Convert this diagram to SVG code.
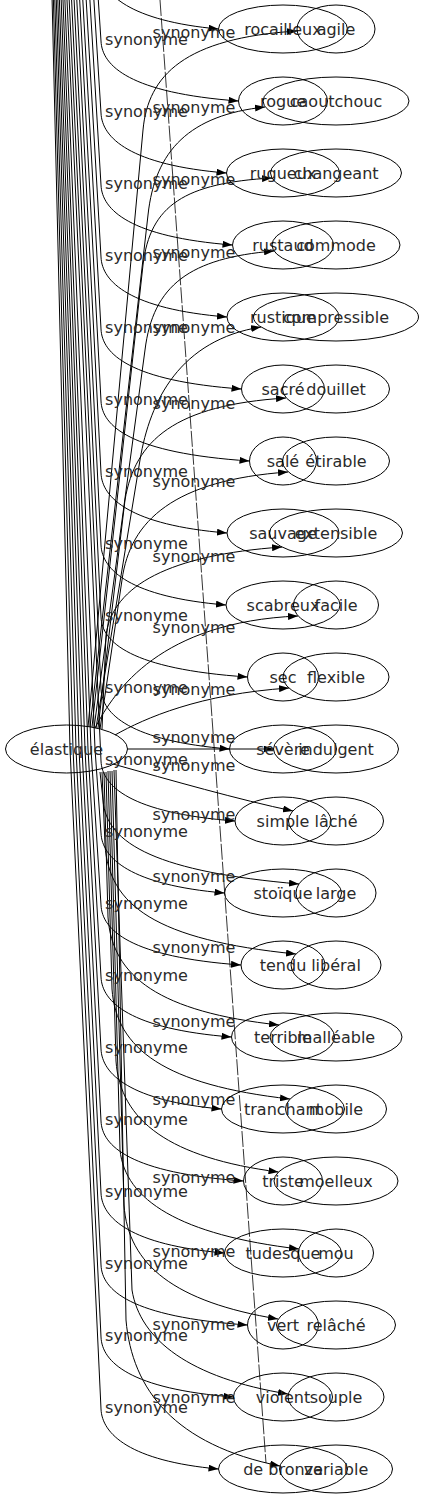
<svg xmlns="http://www.w3.org/2000/svg" width="423" height="1499" viewBox="0 0 423 1499">
<style>
.e{fill:none;stroke:#000;stroke-width:1;marker-end:url(#ah)}
.d{fill:none;stroke:#000;stroke-width:0.8;stroke-dasharray:16,2}
ellipse{fill:none;stroke:#000;stroke-width:1}
text{font-family:"DejaVu Sans","Liberation Sans",sans-serif;font-size:16px;fill:#2a2a2a;text-anchor:middle}
</style>
<defs>
<marker id="ah" markerUnits="userSpaceOnUse" markerWidth="10" markerHeight="7" refX="10" refY="3.5" orient="auto"><path d="M0,0 L10,3.5 L0,7 z" fill="#000"/></marker>
</defs>
<rect width="423" height="1499" fill="#fff"/>
<g id="edges">
<path class="d" d="M160,0 L266,1463"/>
<path class="e" d="M100,-120 L100,-31 C101,-6 130,21 218.5,29"/>
<path class="e" d="M98.3,0 L101,41 C102,66 130,93 238.5,101"/>
<path class="e" d="M93.9,0 L101,113 C102,138 130,165 226.5,173"/>
<path class="e" d="M89.9,0 L101,185 C102,210 130,237 232.5,245"/>
<path class="e" d="M86.2,0 L101,257 C102,282 130,309 227,317"/>
<path class="e" d="M82.8,0 L101,329 C102,354 130,381 241.5,389"/>
<path class="e" d="M79.7,0 L101,401 C102,426 130,453 249.5,461"/>
<path class="e" d="M76.8,0 L101,473 C102,498 130,525 227,533"/>
<path class="e" d="M74.1,0 L101,545 C102,570 130,597 226,605"/>
<path class="e" d="M71.6,0 L101,617 C102,642 130,669 247.5,677"/>
<path class="e" d="M69.2,0 L101,689 C102,714 130,741 229.5,749"/>
<path class="e" d="M67,0 L101,761 C102,786 130,813 235,821"/>
<path class="e" d="M64.9,0 L95,749 L101,833 C102,858 130,885 224.5,893"/>
<path class="e" d="M63,0 L91,749 L101,905 C102,930 130,957 241,965"/>
<path class="e" d="M61.2,0 L88,749 L101,977 C102,1002 130,1029 231.5,1037"/>
<path class="e" d="M59.4,0 L85,749 L101,1049 C102,1074 130,1101 221.5,1109"/>
<path class="e" d="M57.8,0 L82,749 L101,1121 C102,1146 130,1173 243.5,1181"/>
<path class="e" d="M56.3,0 L79,749 L101,1193 C102,1218 130,1245 224.5,1253"/>
<path class="e" d="M54.8,0 L76,749 L101,1265 C102,1290 130,1317 247.5,1325"/>
<path class="e" d="M53.4,0 L73,749 L101,1337 C102,1362 130,1389 233.5,1397"/>
<path class="e" d="M52.1,0 L70,749 L101,1409 C102,1434 130,1461 218.5,1469"/>
<path class="e" d="M88,727 L143,130 C148,75 185,38 297,31"/>
<path class="e" d="M90,727 L148,215 C155,150 190,115 265,107"/>
<path class="e" d="M92,727 L143,265 C150,205 185,183 272,178"/>
<path class="e" d="M94,728 L145,350 C153,285 190,258 274,251"/>
<path class="e" d="M96,728 L140,460 C150,400 180,340 261,327"/>
<path class="e" d="M98,728 L125,500 C135,440 175,405 286,398"/>
<path class="e" d="M100,729 L122,580 C130,520 175,480 288,472"/>
<path class="e" d="M102,729 L106,635 C113,585 170,555 282,547"/>
<path class="e" d="M95,728 C115,690 160,622 298,616"/>
<path class="e" d="M115,735 C145,718 200,694 289,688"/>
<path class="e" d="M127.5,749 L273.5,749"/>
<path class="e" d="M113,764 C170,780 240,800 293,811"/>
<path class="e" d="M100,772 L103,800 C106,845 160,872 299,884"/>
<path class="e" d="M102,772 L105,845 C109,905 155,940 296,954"/>
<path class="e" d="M104,772 L108,917 C112,977 160,1012 279,1025"/>
<path class="e" d="M106,772 L112,989 C116,1049 165,1085 290,1099"/>
<path class="e" d="M108,771 L116,1061 C120,1121 170,1158 278.5,1172"/>
<path class="e" d="M110,771 L120,1150 C125,1200 180,1235 299,1249"/>
<path class="e" d="M112,771 L124,1205 C128,1265 175,1302 278,1319"/>
<path class="e" d="M114,770 L132,1290 C140,1340 190,1378 288,1394"/>
<path class="e" d="M116,770 L126,1320 C132,1390 175,1445 280,1466"/>
</g>
<g id="edge-labels">
<text x="146.5" y="45">synonyme</text>
<text x="146.5" y="117">synonyme</text>
<text x="146.5" y="189">synonyme</text>
<text x="146.5" y="261">synonyme</text>
<text x="146.5" y="333">synonyme</text>
<text x="146.5" y="405">synonyme</text>
<text x="146.5" y="477">synonyme</text>
<text x="146.5" y="549">synonyme</text>
<text x="146.5" y="621">synonyme</text>
<text x="146.5" y="693">synonyme</text>
<text x="146.5" y="765">synonyme</text>
<text x="146.5" y="837">synonyme</text>
<text x="146.5" y="909">synonyme</text>
<text x="146.5" y="981">synonyme</text>
<text x="146.5" y="1053">synonyme</text>
<text x="146.5" y="1125">synonyme</text>
<text x="146.5" y="1197">synonyme</text>
<text x="146.5" y="1269">synonyme</text>
<text x="146.5" y="1341">synonyme</text>
<text x="146.5" y="1413">synonyme</text>
<text x="194" y="38">synonyme</text>
<text x="194" y="113">synonyme</text>
<text x="194" y="185">synonyme</text>
<text x="194" y="258">synonyme</text>
<text x="194" y="333">synonyme</text>
<text x="194" y="409">synonyme</text>
<text x="194" y="487">synonyme</text>
<text x="194" y="562">synonyme</text>
<text x="194" y="633">synonyme</text>
<text x="194" y="695">synonyme</text>
<text x="194" y="743">synonyme</text>
<text x="194" y="771">synonyme</text>
<text x="194" y="820">synonyme</text>
<text x="194" y="882">synonyme</text>
<text x="194" y="953">synonyme</text>
<text x="194" y="1027">synonyme</text>
<text x="194" y="1105">synonyme</text>
<text x="194" y="1183">synonyme</text>
<text x="194" y="1257">synonyme</text>
<text x="194" y="1330">synonyme</text>
<text x="194" y="1403">synonyme</text>
</g>
<g id="n-elastique"><ellipse cx="66.5" cy="749" rx="61" ry="24"/><text x="66.5" y="754.5">élastique</text></g>
<g id="n-rocailleux"><ellipse cx="283" cy="29" rx="64.5" ry="24"/><text x="283" y="34.5">rocailleux</text></g>
<g id="n-rogue"><ellipse cx="283" cy="101" rx="44.5" ry="24"/><text x="283" y="106.5">rogue</text></g>
<g id="n-rugueux"><ellipse cx="283" cy="173" rx="56.5" ry="24"/><text x="283" y="178.5">rugueux</text></g>
<g id="n-rustaud"><ellipse cx="283" cy="245" rx="50.5" ry="24"/><text x="283" y="250.5">rustaud</text></g>
<g id="n-rustique"><ellipse cx="283" cy="317" rx="56" ry="24"/><text x="283" y="322.5">rustique</text></g>
<g id="n-sacre"><ellipse cx="283" cy="389" rx="41.5" ry="24"/><text x="283" y="394.5">sacré</text></g>
<g id="n-sale"><ellipse cx="283" cy="461" rx="33.5" ry="24"/><text x="283" y="466.5">salé</text></g>
<g id="n-sauvage"><ellipse cx="283" cy="533" rx="56" ry="24"/><text x="283" y="538.5">sauvage</text></g>
<g id="n-scabreux"><ellipse cx="283" cy="605" rx="57" ry="24"/><text x="283" y="610.5">scabreux</text></g>
<g id="n-sec"><ellipse cx="283" cy="677" rx="35.5" ry="24"/><text x="283" y="682.5">sec</text></g>
<g id="n-severe"><ellipse cx="283" cy="749" rx="53.5" ry="24"/><text x="283" y="754.5">sévère</text></g>
<g id="n-simple"><ellipse cx="283" cy="821" rx="48" ry="24"/><text x="283" y="826.5">simple</text></g>
<g id="n-stoique"><ellipse cx="283" cy="893" rx="58.5" ry="24"/><text x="283" y="898.5">stoïque</text></g>
<g id="n-tendu"><ellipse cx="283" cy="965" rx="42" ry="24"/><text x="283" y="970.5">tendu</text></g>
<g id="n-terrible"><ellipse cx="283" cy="1037" rx="51.5" ry="24"/><text x="283" y="1042.5">terrible</text></g>
<g id="n-tranchant"><ellipse cx="283" cy="1109" rx="61.5" ry="24"/><text x="283" y="1114.5">tranchant</text></g>
<g id="n-triste"><ellipse cx="283" cy="1181" rx="39.5" ry="24"/><text x="283" y="1186.5">triste</text></g>
<g id="n-tudesque"><ellipse cx="283" cy="1253" rx="58.5" ry="24"/><text x="283" y="1258.5">tudesque</text></g>
<g id="n-vert"><ellipse cx="283" cy="1325" rx="35.5" ry="24"/><text x="283" y="1330.5">vert</text></g>
<g id="n-violent"><ellipse cx="283" cy="1397" rx="49.5" ry="24"/><text x="283" y="1402.5">violent</text></g>
<g id="n-de-bronze"><ellipse cx="283" cy="1469" rx="64.5" ry="24"/><text x="283" y="1474.5">de bronze</text></g>
<g id="n-agile"><ellipse cx="336" cy="29" rx="39" ry="24"/><text x="336" y="34.5">agile</text></g>
<g id="n-caoutchouc"><ellipse cx="336" cy="101" rx="73" ry="24"/><text x="336" y="106.5">caoutchouc</text></g>
<g id="n-changeant"><ellipse cx="336" cy="173" rx="65.5" ry="24"/><text x="336" y="178.5">changeant</text></g>
<g id="n-commode"><ellipse cx="336" cy="245" rx="64" ry="24"/><text x="336" y="250.5">commode</text></g>
<g id="n-compressible"><ellipse cx="336" cy="317" rx="82.5" ry="24"/><text x="336" y="322.5">compressible</text></g>
<g id="n-douillet"><ellipse cx="336" cy="389" rx="53.5" ry="24"/><text x="336" y="394.5">douillet</text></g>
<g id="n-etirable"><ellipse cx="336" cy="461" rx="53.5" ry="24"/><text x="336" y="466.5">étirable</text></g>
<g id="n-extensible"><ellipse cx="336" cy="533" rx="66.5" ry="24"/><text x="336" y="538.5">extensible</text></g>
<g id="n-facile"><ellipse cx="336" cy="605" rx="42.5" ry="24"/><text x="336" y="610.5">facile</text></g>
<g id="n-flexible"><ellipse cx="336" cy="677" rx="53" ry="24"/><text x="336" y="682.5">flexible</text></g>
<g id="n-indulgent"><ellipse cx="336" cy="749" rx="62.5" ry="24"/><text x="336" y="754.5">indulgent</text></g>
<g id="n-lache"><ellipse cx="336" cy="821" rx="47.5" ry="24"/><text x="336" y="826.5">lâché</text></g>
<g id="n-large"><ellipse cx="336" cy="893" rx="40" ry="24"/><text x="336" y="898.5">large</text></g>
<g id="n-liberal"><ellipse cx="336" cy="965" rx="45" ry="24"/><text x="336" y="970.5">libéral</text></g>
<g id="n-malleable"><ellipse cx="336" cy="1037" rx="66" ry="24"/><text x="336" y="1042.5">malléable</text></g>
<g id="n-mobile"><ellipse cx="336" cy="1109" rx="50.5" ry="24"/><text x="336" y="1114.5">mobile</text></g>
<g id="n-moelleux"><ellipse cx="336" cy="1181" rx="62" ry="24"/><text x="336" y="1186.5">moelleux</text></g>
<g id="n-mou"><ellipse cx="336" cy="1253" rx="37.5" ry="24"/><text x="336" y="1258.5">mou</text></g>
<g id="n-relache"><ellipse cx="336" cy="1325" rx="59.5" ry="24"/><text x="336" y="1330.5">relâché</text></g>
<g id="n-souple"><ellipse cx="336" cy="1397" rx="48" ry="24"/><text x="336" y="1402.5">souple</text></g>
<g id="n-variable"><ellipse cx="336" cy="1469" rx="56.5" ry="24"/><text x="336" y="1474.5">variable</text></g>
</svg>
